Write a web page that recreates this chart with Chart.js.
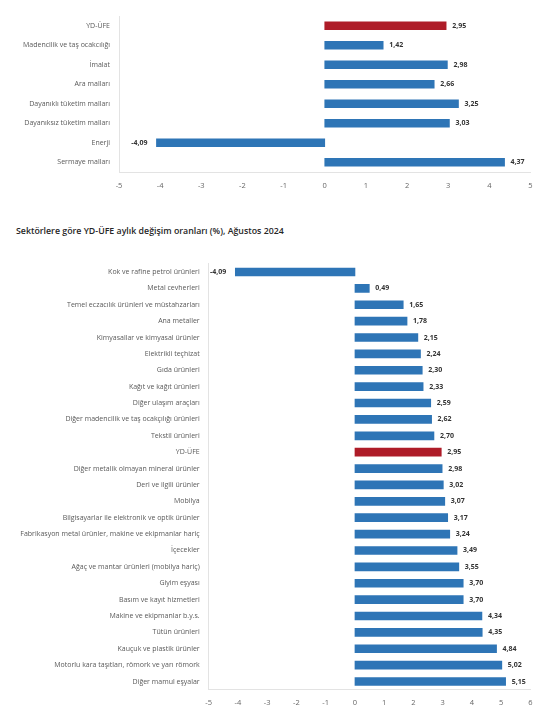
<!DOCTYPE html>
<html>
<head>
<meta charset="utf-8">
<script src="https://cdn.jsdelivr.net/npm/chart.js@4.4.1/dist/chart.umd.min.js"></script>
<style>
  html, body { margin: 0; padding: 0; background: #fff; width: 549px; height: 720px; overflow: hidden; }
  #top { position: absolute; left: 0; top: 0; width: 549px; height: 194px; }
  #bottom { position: absolute; left: 0; top: 240px; width: 549px; height: 480px; }
  #title { position: absolute; left: 16px; top: 225px; font-family: 'Open Sans', sans-serif; font-weight: 600; font-size: 8.8px; color: #262626; white-space: nowrap; }
</style>
</head>
<body>
<div id="top"><canvas id="c1"></canvas></div>
<div id="title">Sektörlere göre YD-ÜFE aylık değişim oranları (%), Ağustos 2024</div>
<div id="bottom"><canvas id="c2"></canvas></div>
<script>
const topCategories = ['YD-ÜFE', 'Madencilik ve taş ocakcılığı', 'İmalat', 'Ara malları', 'Dayanıklı tüketim malları', 'Dayanıksız tüketim malları', 'Enerji', 'Sermaye malları'];
const topValues = [2.95, 1.42, 2.98, 2.66, 3.25, 3.03, -4.09, 4.37];
const topTicks = [-5, 5];

const bottomCategories = ['Kok ve rafine petrol ürünleri', 'Metal cevherleri', 'Temel eczacılık ürünleri ve müstahzarları', 'Ana metaller', 'Kimyasallar ve kimyasal ürünler', 'Elektrikli teçhizat', 'Gıda ürünleri', 'Kağıt ve kağıt ürünleri', 'Diğer ulaşım araçları', 'Diğer madencilik ve taş ocakçılığı ürünleri', 'Tekstil ürünleri', 'YD-ÜFE', 'Diğer metalik olmayan mineral ürünler', 'Deri ve ilgili ürünler', 'Mobilya', 'Bilgisayarlar ile elektronik ve optik ürünler', 'Fabrikasyon metal ürünler, makine ve ekipmanlar hariç', 'İçecekler', 'Ağaç ve mantar ürünleri (mobilya hariç)', 'Giyim eşyası', 'Basım ve kayıt hizmetleri', 'Makine ve ekipmanlar b.y.s.', 'Tütün ürünleri', 'Kauçuk ve plastik ürünler', 'Motorlu kara taşıtları, römork ve yarı römork', 'Diğer mamul eşyalar'];
const bottomValues = [-4.09, 0.49, 1.65, 1.78, 2.15, 2.24, 2.30, 2.33, 2.59, 2.62, 2.70, 2.95, 2.98, 3.02, 3.07, 3.17, 3.24, 3.49, 3.55, 3.70, 3.70, 4.34, 4.35, 4.84, 5.02, 5.15];
const bottomTicks = [-5, 6];

const highlight = 'YD-ÜFE';
const BLUE = '#2E75B6';
const RED = '#AE1C28';
const FONT = "'Open Sans', sans-serif";

const valueLabels = {
  id: 'valueLabels',
  afterDatasetsDraw(chart) {
    const ctx = chart.ctx;
    const meta = chart.getDatasetMeta(0);
    const data = chart.data.datasets[0].data;
    ctx.save();
    ctx.font = "bold 7px " + FONT;
    ctx.fillStyle = '#333333';
    ctx.textBaseline = 'middle';
    meta.data.forEach((bar, i) => {
      const v = data[i];
      const txt = v.toFixed(2).replace('.', ',');
      if (v >= 0) { ctx.textAlign = 'left'; ctx.fillText(txt, bar.x + 6, bar.y); }
      else { ctx.textAlign = 'right'; ctx.fillText(txt, bar.x - 9, bar.y); }
    });
    ctx.restore();
  }
};

function makeChart(id, cats, vals, ticks, yWidth, pad, tickPad, labelSize) {
  return new Chart(document.getElementById(id), {
    type: 'bar',
    data: {
      labels: cats,
      datasets: [{
        data: vals,
        backgroundColor: cats.map(c => c === highlight ? RED : BLUE),
        barThickness: 8,
        borderWidth: 0
      }]
    },
    options: {
      indexAxis: 'y',
      responsive: true,
      maintainAspectRatio: false,
      animation: false,
      layout: { padding: pad },
      plugins: { legend: { display: false }, tooltip: { enabled: false } },
      scales: {
        x: {
          min: ticks[0], max: ticks[1],
          grid: { display: false, drawTicks: false },
          border: { display: true, color: '#E3E3E3', width: 1 },
          ticks: { stepSize: 1, padding: tickPad, color: '#666666', font: { family: FONT, size: 7.5 } },
          afterFit(s) { s.height = 22; }
        },
        y: {
          grid: { display: false, drawTicks: false },
          border: { display: true, color: '#E3E3E3', width: 1 },
          ticks: { padding: 9, color: '#595959', font: { family: FONT, size: labelSize }, autoSkip: false },
          afterFit(s) { s.width = yWidth; }
        }
      }
    },
    plugins: [valueLabels]
  });
}

makeChart('c1', topCategories, topValues, topTicks, 119, { top: 16, right: 18.5, left: 0, bottom: 0 }, 9.5, 7);
makeChart('c2', bottomCategories, bottomValues, bottomTicks, 208.7, { top: 23.8, right: 18.5, left: 0, bottom: 8.3 }, 8.5, 7);
</script>
</body>
</html>
